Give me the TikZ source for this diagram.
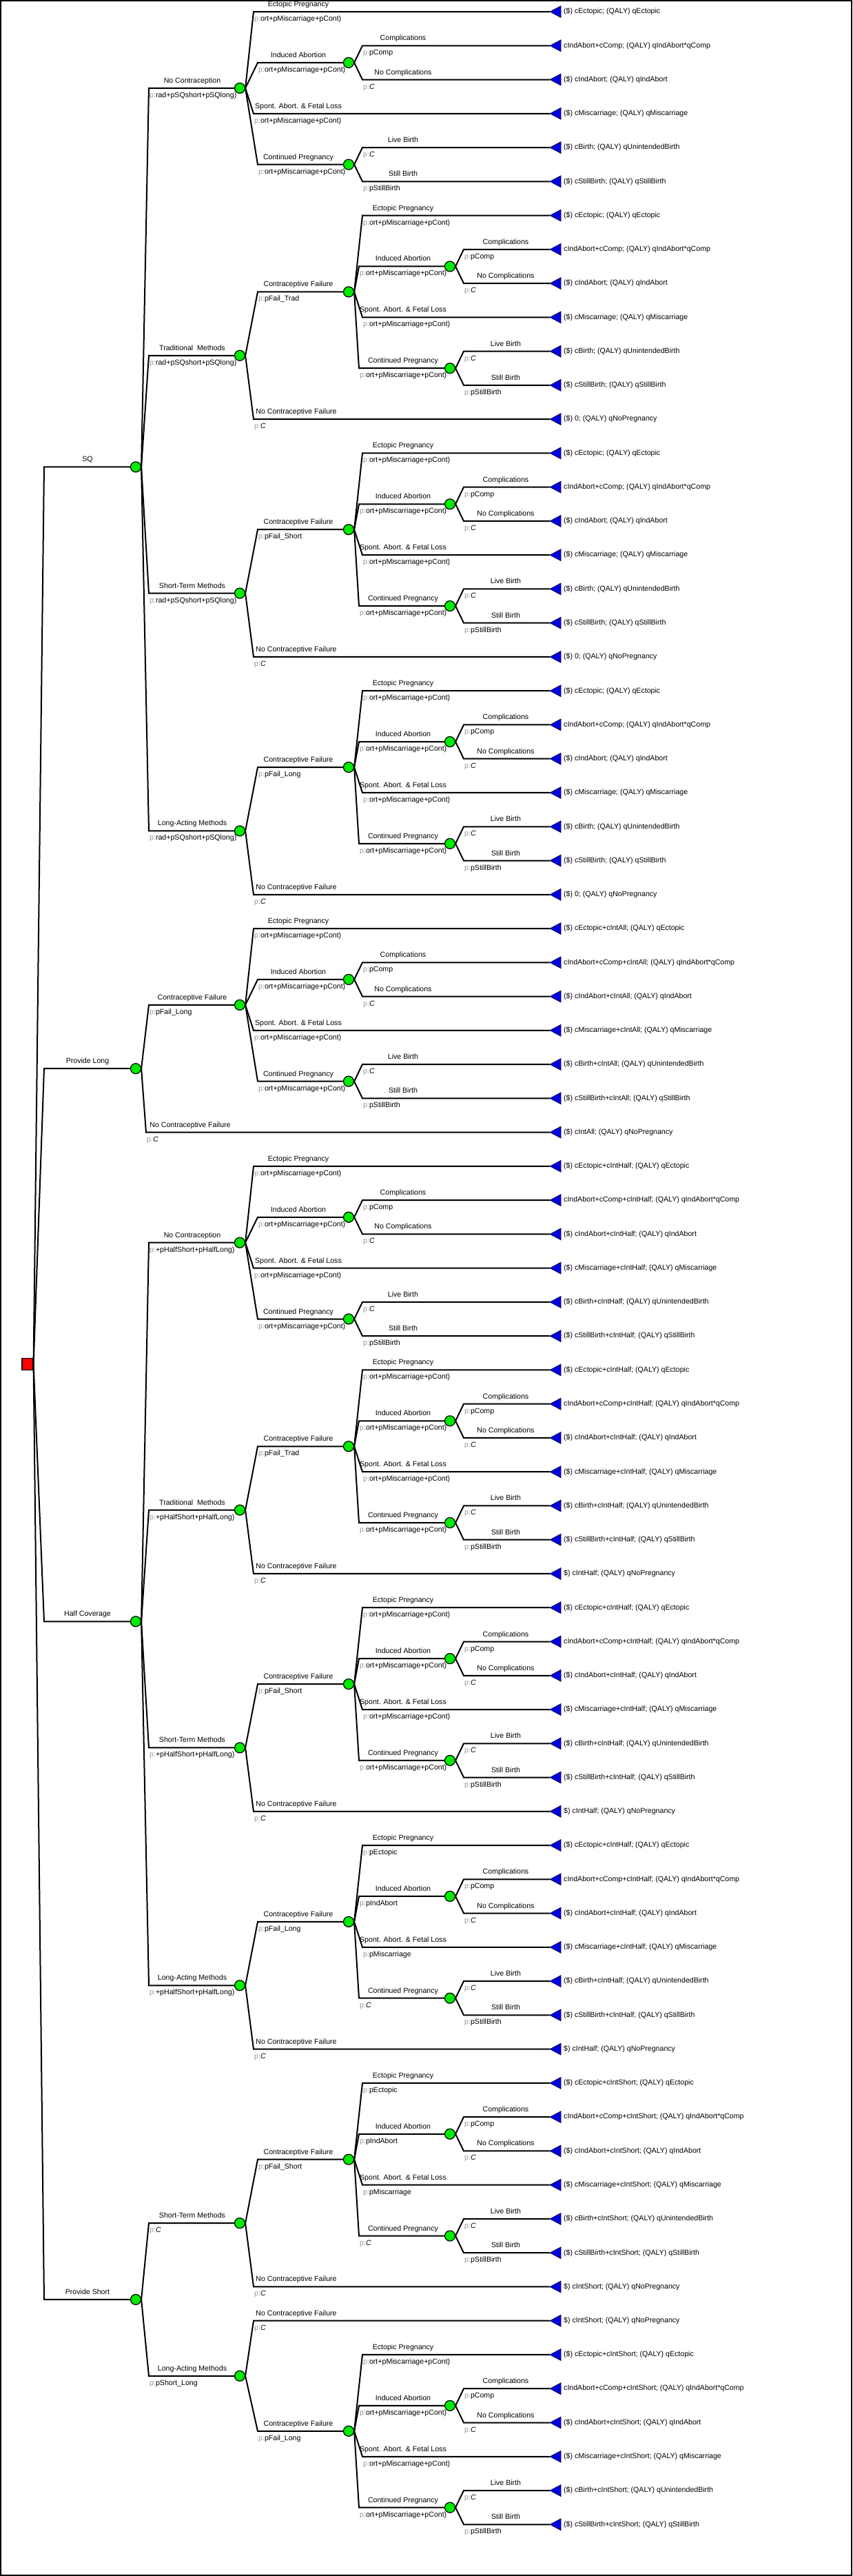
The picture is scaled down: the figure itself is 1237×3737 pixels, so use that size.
\documentclass[tikz,border=0pt]{standalone}
\usepackage{fontspec}
\setmainfont{Liberation Sans}
\usetikzlibrary{backgrounds}
\definecolor{cgreen}{RGB}{0,235,0}
\definecolor{cblue}{RGB}{0,0,225}
\definecolor{pgray}{RGB}{150,150,150}
\tikzset{
  every node/.style={font=\fontsize{10.6}{12}\selectfont},
  edge/.style={line width=2pt},
  chance/.style={circle, fill=cgreen, draw=black, line width=1.2pt, minimum size=15pt, inner sep=0pt},
  decision/.style={rectangle, fill=red, draw=black, line width=1.2pt, minimum width=16pt, minimum height=17pt, inner sep=0pt},
  tri/.style={fill=cblue, draw=black, line width=0.5pt},
  lab/.style={anchor=base, yshift=7.5pt, inner sep=0pt},
  plab/.style={anchor=base west, yshift=-13.5pt, xshift=1pt, inner sep=0pt},
  payoff/.style={anchor=west, inner sep=0pt},
}
% terminal: name, index, text
\newcommand\term[3]{%
  \coordinate (#1) at (798,{#2});
  \filldraw[tri] (#1) -- ++(16pt,8.5pt) -- ++(0pt,-17pt) -- cycle;
  \node[payoff] (#1-t) at (818,{#2}) {#3};
}
% branch to chance node: parent, child, startx, labelx, label, prob
\newcommand\brN[6]{%
  \begin{pgfonlayer}{background}
    \draw[edge] (#1.east) -- (#3,0 |- #2.west) -- (#2.west);
  \end{pgfonlayer}
  \path (#4,0 |- #2.west) node[lab] {#5};
  \path (#3,0 |- #2.west) node[plab] {\textcolor{pgray}{p:}#6};
}
% branch to terminal
\newcommand\brT[6]{%
  \begin{pgfonlayer}{background}
    \draw[edge] (#1.east) -- (#3,0 |- #2) -- (#2);
  \end{pgfonlayer}
  \path (#4,0 |- #2) node[lab] {#5};
  \path (#3,0 |- #2) node[plab] {\textcolor{pgray}{p:}#6};
}
% decision branch (no probability)
\newcommand\brD[5]{%
  \begin{pgfonlayer}{background}
    \draw[edge] (#1.east) -- (#3,0 |- #2.west) -- (#2.west);
  \end{pgfonlayer}
  \path (#4,0 |- #2.west) node[lab] {#5};
}
\newcommand\setA{\def\bNx{506}\def\bTs{368}\def\bNs{374}\def\bCn{433}\def\bGs{526}\def\bGc{585}}
\newcommand\setB{\def\bNx{653}\def\bTs{526}\def\bNs{521}\def\bCn{585}\def\bGs{673}\def\bGc{734}}
\newcommand\vOne{\def\bpE{ort+pMiscarriage+pCont)}\def\bpI{ort+pMiscarriage+pCont)}\def\bpS{ort+pMiscarriage+pCont)}\def\bpC{ort+pMiscarriage+pCont)}}
\newcommand\vTwo{\def\bpE{pEctopic}\def\bpI{pIndAbort}\def\bpS{pMiscarriage}\def\bpC{\textit{C}}}
% pregnancy block: parent, prefix, first leaf index, cost suffix
\newcommand\pblock[4]{%
  \node[chance] (#2ia) at (\bNx,{#3+1.5}) {};
  \node[chance] (#2cp) at (\bNx,{#3+4.5}) {};
  \term{#2e}{#3}{(\$) cEctopic#4; (QALY) qEctopic}
  \term{#2c}{#3+1}{cIndAbort+cComp#4; (QALY) qIndAbort*qComp}
  \term{#2n}{#3+2}{(\$) cIndAbort#4; (QALY) qIndAbort}
  \term{#2s}{#3+3}{(\$) cMiscarriage#4; (QALY) qMiscarriage}
  \term{#2l}{#3+4}{(\$) cBirth#4; (QALY) qUnintendedBirth}
  \term{#2b}{#3+5}{(\$) cStillBirth#4; (QALY) qStillBirth}
  \brT{#1}{#2e}{\bTs}{\bCn}{Ectopic Pregnancy}{\bpE}
  \brN{#1}{#2ia}{\bNs}{\bCn}{Induced Abortion}{\bpI}
  \brT{#1}{#2s}{\bTs}{\bCn}{Spont. Abort. \& Fetal Loss}{\bpS}
  \brN{#1}{#2cp}{\bNs}{\bCn}{Continued Pregnancy}{\bpC}
  \brT{#2ia}{#2c}{\bGs}{\bGc}{Complications}{pComp}
  \brT{#2ia}{#2n}{\bGs}{\bGc}{No Complications}{\textit{C}}
  \brT{#2cp}{#2l}{\bGs}{\bGc}{Live Birth}{\textit{C}}
  \brT{#2cp}{#2b}{\bGs}{\bGc}{Still Birth}{pStillBirth}
}
% method: parent, prefix, k, label, prob, CF prob, suffix, NCF text
\newcommand\method[8]{%
  \node[chance] (#2) at (348,{#3+4.125}) {};
  \node[chance] (#2cf) at (506,{#3+2.25}) {};
  \term{#2ncf}{#3+6}{#8}
  \brN{#1}{#2}{216}{279}{#4}{#5}
  \brN{#2}{#2cf}{374}{433}{Contraceptive Failure}{#6}
  \brT{#2}{#2ncf}{368}{430}{No Contraceptive Failure}{\textit{C}}
  \setB
  \pblock{#2cf}{#2x}{#3}{#7}
}
\begin{document}
\begin{tikzpicture}[x=1pt,y=1pt]
\useasboundingbox (0,0) rectangle (1237,-3737);
\begin{pgfonlayer}{background}
  \fill[white] (0,0) rectangle (1237,-3737);
\end{pgfonlayer}
\draw[line width=2pt] (1,-1) rectangle (1236,-3736);
\begin{scope}[y=-49.26pt, yshift=-17pt]
  \node[decision] (root) at (40,39.828) {};
  % ---------- SQ ----------
  \node[chance] (sq) at (197,13.40625) {};
  \brD{root}{sq}{64}{127}{SQ}
  \node[chance] (sqnc) at (348,2.25) {};
  \brN{sq}{sqnc}{216}{279}{No Contraception}{rad+pSQshort+pSQlong)}
  \setA\vOne
  \pblock{sqnc}{sqncx}{0}{}
  \vOne
  \method{sq}{sqt}{6}{Traditional\hspace{0.55em}Methods}{rad+pSQshort+pSQlong)}{pFail\_Trad}{}{(\$) 0; (QALY) qNoPregnancy}
  \vOne
  \method{sq}{sqs}{13}{Short-Term Methods}{rad+pSQshort+pSQlong)}{pFail\_Short}{}{(\$) 0; (QALY) qNoPregnancy}
  \vOne
  \method{sq}{sql}{20}{Long-Acting Methods}{rad+pSQshort+pSQlong)}{pFail\_Long}{}{(\$) 0; (QALY) qNoPregnancy}
  % ---------- Provide Long ----------
  \node[chance] (pl) at (197,31.125) {};
  \node[chance] (plcf) at (348,29.25) {};
  \term{plncf}{33}{(\$) cIntAll; (QALY) qNoPregnancy}
  \brD{root}{pl}{64}{127}{Provide Long}
  \brN{pl}{plcf}{216}{279}{Contraceptive Failure}{pFail\_Long}
  \brT{pl}{plncf}{212}{276}{No Contraceptive Failure}{\textit{C}}
  \setA\vOne
  \pblock{plcf}{plx}{27}{+cIntAll}
  % ---------- Half Coverage ----------
  \node[chance] (hc) at (197,47.40625) {};
  \brD{root}{hc}{64}{127}{Half Coverage}
  \node[chance] (hcnc) at (348,36.25) {};
  \brN{hc}{hcnc}{216}{279}{No Contraception}{+pHalfShort+pHalfLong)}
  \setA\vOne
  \pblock{hcnc}{hcncx}{34}{+cIntHalf}
  \vOne
  \method{hc}{hct}{40}{Traditional\hspace{0.55em}Methods}{+pHalfShort+pHalfLong)}{pFail\_Trad}{+cIntHalf}{\$) cIntHalf; (QALY) qNoPregnancy}
  \vOne
  \method{hc}{hcs}{47}{Short-Term Methods}{+pHalfShort+pHalfLong)}{pFail\_Short}{+cIntHalf}{\$) cIntHalf; (QALY) qNoPregnancy}
  \vTwo
  \method{hc}{hcl}{54}{Long-Acting Methods}{+pHalfShort+pHalfLong)}{pFail\_Long}{+cIntHalf}{\$) cIntHalf; (QALY) qNoPregnancy}
  % ---------- Provide Short ----------
  \node[chance] (ps) at (197,67.375) {};
  \brD{root}{ps}{64}{127}{Provide Short}
  \node[chance] (psst) at (348,65.125) {};
  \node[chance] (psstcf) at (506,63.25) {};
  \term{psstncf}{67}{\$) cIntShort; (QALY) qNoPregnancy}
  \brN{ps}{psst}{216}{279}{Short-Term Methods}{\textit{C}}
  \brN{psst}{psstcf}{374}{433}{Contraceptive Failure}{pFail\_Short}
  \brT{psst}{psstncf}{368}{430}{No Contraceptive Failure}{\textit{C}}
  \setB\vTwo
  \pblock{psstcf}{psstx}{61}{+cIntShort}
  \node[chance] (psla) at (348,69.625) {};
  \node[chance] (pslacf) at (506,71.25) {};
  \term{pslancf}{68}{\$) cIntShort; (QALY) qNoPregnancy}
  \brN{ps}{psla}{216}{279}{Long-Acting Methods}{pShort\_Long}
  \brT{psla}{pslancf}{368}{430}{No Contraceptive Failure}{\textit{C}}
  \brN{psla}{pslacf}{374}{433}{Contraceptive Failure}{pFail\_Long}
  \setB\vOne
  \pblock{pslacf}{pslax}{69}{+cIntShort}
\end{scope}
\end{tikzpicture}
\end{document}
